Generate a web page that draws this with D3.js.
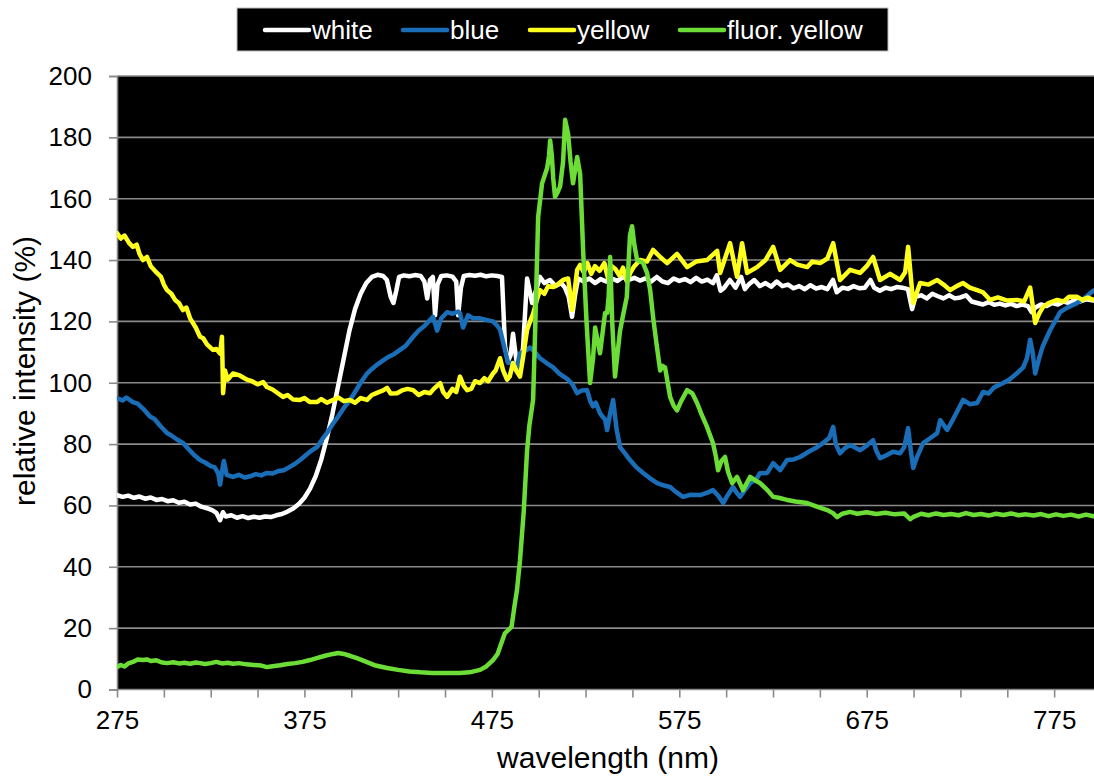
<!DOCTYPE html>
<html>
<head>
<meta charset="utf-8">
<script src="https://cdn.jsdelivr.net/npm/d3@7"></script>
<style>
  body { margin: 0; background: #fff; }
  text { font-family: "Liberation Sans", Arial, sans-serif; }
</style>
</head>
<body>
<script>
// spectra, [wavelength nm, relative intensity %]
var whiteData = [
  [275,63.4],[278,62.8],[281,63.2],[284,62.5],[287,62.9],[290,62.2],[293,62.6],[296,61.8],[299,62.1],[302,61.4],
  [305,61.7],[308,60.9],[311,61.2],[314,60.3],[317,60.6],[320,59.6],[323,59.1],[326,58.4],[328,57.6],[330,55.2],
  [331.5,57.8],[333,56.4],[336,56.8],[339,56.0],[342,56.5],[345,55.9],[348,56.3],[351,56.0],[354,56.4],[357,56.2],
  [360,56.8],[363,57.2],[366,58.0],[369,59.0],[372,60.5],[375,62.5],[378,65.5],[381,69.5],[384,75],[387,82],
  [390,90],[393,99],[396,108],[399,117],[402,124],[405,129],[408,132.5],[411,134.5],[414,135.2],[417,134.8],
  [419,133.5],[421,128],[422.5,126],[424,130],[425.5,134.5],[428,135],[431,134.7],[434,135.1],[437,134.8],[439,133],
  [440.5,127.5],[442,133.5],[443.5,134.5],[444.7,122],[446,132],[448,134.8],[451,135],[454,134.6],[456,133],[457,122],
  [458.5,131],[460,134.8],[463,135.1],[466,134.9],[469,135.2],[472,134.7],[475,135],[478,134.8],[480.4,134.5],[482,112],
  [483.6,107],[485,109],[486.3,116],[487.5,110],[488.4,106],[490,108],[491.6,111],[493.8,134],[496.5,126],[498.5,130],
  [500.7,134.5],[503,132.5],[506,133.5],[509,131.5],[512,132.5],[514,131],[516,128],[517.8,121.5],[519.5,129],[521,134],
  [524,133],[527,134],[530,132.5],[533,133.8],[536,133],[539,134],[542,133.2],[545,134.5],[548,133.5],[551,134.2],
  [554,133.3],[557,134],[560,133],[563,134.5],[566,133],[569,132.5],[572,134],[575,133.2],[578,133.8],[581,132.8],
  [584,134.2],[587,133],[590,133.6],[593,132.5],[595,135],[597,130],[599,131],[602,133.5],[605,131],[608,134.5],
  [610,130.5],[612,132],[615,133.5],[618,131.5],[621,132.5],[624,131.3],[627,133],[630,131.5],[633,132],[636,130.8],
  [639,131.5],[642,130.5],[645,131.8],[648,130.7],[651,131.2],[654,130.5],[657,133.5],[659,129.5],[662,131],[665,130.6],
  [668,131.5],[671,130.8],[674,131],[677,133.5],[679,131],[682,130],[685,131],[688,130.5],[691,131.2],[694,131],
  [697,130.5],[699.2,124],[701,128],[704,128.5],[707,127.5],[710,129],[713,128.2],[716,127.5],[719,128.5],[722,127.5],
  [725,127.8],[728,128.5],[731,126.5],[734,126],[737,125.5],[740,126.3],[743,125.4],[746,125.8],[749,125.2],[752,125.7],
  [755,125],[758,125.5],[761,125],[763,123],[765,124.5],[768,125.5],[771,125],[774,126],[777,125.5],[780,126.5],
  [783,126],[786,127],[789,126.5],[792,127.2],[796,126.8],[800,127]
];

var blueData = [
  [275,95],[278,94.2],[280,95.2],[283.5,93.7],[286,93.2],[289,91.5],[292.6,89],[295,88.2],[298,86],[301.7,83.6],
  [304,82.8],[307,81.5],[310.2,80.4],[313,78.5],[316,76.5],[319.3,74.8],[322,74],[325,72.8],[327,72.5],[329,70.5],
  [330,66.8],[331,71],[332,74.5],[333.5,70],[336.9,69.3],[340,70],[343,69.1],[346,69.5],[349,70.2],[352,69.8],
  [355,70.6],[358,70.4],[361,71.2],[364,71.5],[367,72.5],[370,73.6],[372.7,74.8],[376,76.5],[379,78],[381.7,79],
  [385,82],[388,84.5],[390.3,86.7],[393,89],[396,91.8],[399.3,94.3],[402,97],[405,100],[408.4,103],[411,104.5],
  [414,106],[417,107.3],[420,108.5],[423,109.4],[426,110.7],[429,112],[433,115],[436,117],[439,118.5],[440.4,119.4],
  [443.6,121.5],[445.8,117],[448,121],[451.1,123],[454,122.5],[457,123.2],[458,122.7],[459.6,118],[462.3,122],[465,121],
  [468.7,121],[472,120.5],[475.6,120],[478,118.5],[479.4,117.3],[482,110.7],[483.6,106.5],[486.3,106.4],[488,104],[490,109.6],
  [493,110.5],[495.4,111.5],[498,110],[500.7,108],[504,106.5],[507.7,105],[511,103],[515.7,101],[518,99.5],[520.5,96.6],
  [523,97.5],[525.8,97.6],[527.5,94],[529,92.3],[530.5,93.5],[532.7,90],[534,89],[535.4,88],[536.5,84.6],[538.1,90],
  [539.7,94.4],[541.5,85],[543.4,79],[546,77],[548.7,74.8],[552,72.5],[555.7,70.6],[559,69],[563.2,67.3],[567,66.5],
  [570.1,66],[573,64.5],[577,62.8],[581,63.5],[586.1,63.4],[590,64.2],[593,65],[596,63],[598.4,60.8],[601,63.5],
  [603.7,66],[605.8,64],[607.4,62.8],[610,65],[612.8,67.3],[616,68.5],[618,70.5],[621.9,70.6],[625.1,73.8],[628.8,71.5],
  [632.5,74.8],[636,75],[639.5,75.8],[644,77.5],[648.5,79],[652,80.5],[655,82],[657.1,85.6],[658.5,80],[660.8,77],
  [663,78.5],[666.1,79.7],[669,78.8],[671.5,78],[675,79.5],[678.4,81.3],[680,78],[682.1,75.4],[686,76.5],[689,77.5],
  [692.8,77],[695,79],[697.1,85.2],[698.5,78],[699.8,72.2],[702,76],[705.1,80.3],[709,82],[712.6,83.6],[714.2,87.8],
  [717.9,84.6],[721,88],[724,91.5],[726.4,94.4],[730,93],[733.9,93.4],[737.1,97],[740,96.5],[743,98.5],[747.8,99.9],
  [751,101],[755,103],[758.5,105],[760.5,108],[762.2,114],[763.5,110],[764.9,103],[767,108],[769,112],[772.9,117.2],
  [778.2,123],[782,124.5],[787.3,126],[791,127.5],[795.8,130],[800,131]
];

var yellowData = [
  [275,148.8],[277,147],[279,148],[281.5,145.5],[283.5,144.3],[285.5,145],[287,142],[288.9,140],[291,141],[293,138],
  [296.3,135.8],[298.5,134.5],[300,132],[301.7,130.2],[304,129],[306,127],[308,126],[310.2,123.7],[312,124.5],[314,121],
  [317,118],[319.3,115],[321,114.5],[323,112.5],[326.2,110.7],[328,111],[330,109.5],[331,115],[331.6,96.6],[332.6,104],
  [334,101],[336.9,103],[340,102.5],[344.4,101],[347,100.5],[350,99.5],[353,100.2],[355,98.6],[358,97.8],[361,96.5],
  [363.6,95.4],[366,96],[369,94.5],[372.7,94.4],[375,95],[378,93.7],[381.7,93.7],[384,94.7],[387,93.5],[390.3,94.4],
  [393,95.2],[396,94],[399.3,94.4],[402,93.5],[405,95],[408.4,94.4],[411,96],[414,96.8],[417,97.5],[419.1,98.3],
  [421,96.5],[424.4,96.6],[427,97.5],[430,98],[433,97.6],[436,96],[439,97],[442,96.6],[444,98],[447.4,99.9],
  [449,97],[451.1,95.4],[454,98],[456,97],[458,102],[460,99],[461.8,97.6],[464,98],[466,100.5],[468.7,99.9],
  [471,101.5],[473,100.5],[475.6,103],[477,104],[479.4,108],[481,104],[483.1,101],[484.5,102],[486.3,106.4],[488,104],
  [490,102],[491.6,108],[493.8,117.3],[495.4,120],[497,122.5],[499,127],[500.7,130.2],[503,129],[505,131.5],[507.7,131.2],
  [510,132],[513,133.5],[515.7,134],[517,128],[517.8,123.7],[518.8,128],[520.5,136.8],[522.1,138.4],[524,136],[526,139],
  [528,135.5],[530,138],[532.5,136.5],[535,139],[537,134],[539,138],[541,137],[543,135],[545,137.5],[547,133],
  [549,136],[551,138],[554.1,140],[557.8,139.5],[561,143.3],[564.8,141],[568.5,139],[573.8,142],[579.2,137.7],[584,139.5],
  [589.8,140],[595.2,143],[596.8,135.8],[602.1,145.5],[605.8,134.5],[608.5,145.5],[611.2,135.8],[616.5,137.7],[621,140],[625.1,144.3],
  [628.8,136.8],[634.1,140],[638,138.5],[643.2,137.7],[646,139.5],[650.1,139],[654,140.5],[657.1,145.5],[660.8,133.5],[666.1,136.8],
  [671.5,135.8],[675,138],[678.4,141],[682.1,133.5],[687.5,135.5],[692.8,133.5],[695.5,136],[697.1,144.3],[699.8,126],[703.5,132.5],
  [708,132],[712.6,133.5],[716,132],[719.5,130.2],[723,131.5],[726.4,132.5],[730,131],[733.9,130.2],[737,129.5],[740.9,127],
  [745,127.8],[750,126.8],[755.3,127],[759,126.5],[762.2,131],[764.9,119.5],[767,122.5],[769.1,124.7],[772,126],[776.6,127],
  [780,126.5],[783,128],[787.3,128],[790,127],[793,127.8],[795.8,127],[800,127.5]
];

var greenData = [
  [275,7.3],[277,8],[279,7.5],[281,8.5],[283.5,9],[286,9.8],[288.9,9.6],[291,9.8],[293,9.3],[296,9.5],
  [299,8.8],[301.7,8.6],[305,8.9],[308,8.5],[311,8.7],[314,8.4],[317,8.8],[319.3,8.6],[322,8.3],[325,8.6],
  [328,9.0],[331,8.5],[334,8.7],[336.9,8.4],[340,8.6],[344,8.2],[348,8.0],[352,7.8],[355,7.3],[358,7.6],
  [362,7.9],[366,8.3],[370,8.6],[374,9.0],[378,9.6],[382,10.3],[386,11],[390.3,11.6],[393,11.9],[396,11.6],
  [399.3,11.0],[403,10.2],[408.4,8.9],[413,7.8],[419.1,7.0],[425,6.4],[431,5.9],[437,5.6],[443,5.4],[450,5.4],
  [458,5.4],[463,5.6],[468.7,6.4],[472,7.5],[475.6,9.6],[478,11.5],[479.4,13.9],[482,18.4],[484,19.5],[485.5,20.4],
  [487,26.9],[488.4,32.4],[490,42],[492,58],[493.8,78],[495,86],[497,94.4],[498,115],[499.7,154],[501.8,165],
  [504.5,170],[505.5,174],[506.1,179],[507,174],[507.7,167],[508.7,160.6],[510,162],[511.4,164],[513,172],[514.1,185.7],
  [515.7,181],[517,172],[518.3,165],[520.5,173.6],[522.1,168],[523.7,143],[525.5,120],[527.4,99.9],[529,108],[530.1,118],
  [532.7,109.6],[535.4,122.7],[536.5,122.7],[537.3,128],[538.1,141],[539.2,120],[540.7,102],[543.4,117],[545,122],[547,128],
  [548.7,148],[549.8,151],[551,145],[552.5,140],[555.7,139],[557.8,135.8],[559.5,130],[561,121.5],[563,112],[564.8,104],
  [566,105.5],[567.4,105],[570.1,95.4],[572,92.5],[573.8,91],[576,94],[579.2,97.6],[582,96.5],[584.5,93.4],[587,89.5],
  [589.8,85.6],[593,80.3],[594.5,76],[595.7,71.5],[597.5,74.5],[599.4,75.8],[601,71],[603.2,67.3],[605.8,69.3],[609,65],
  [612.8,69.3],[616,68],[618.1,67.3],[622,65],[625.1,62.8],[628,62.5],[632.5,61.8],[637,61.3],[643.2,60.8],[648,59.7],
  [653.9,58.5],[657,57.5],[659.2,56.2],[662,57.3],[666.1,57.9],[670,57.3],[675,57.8],[680,57.2],[685,57.6],[690,57.1],
  [695,57.4],[698.2,55.5],[700,56.3],[704,57.3],[708,56.8],[712,57.4],[716,56.9],[720,57.2],[724,56.8],[728,57.5],
  [732,56.9],[736,57.2],[740,56.7],[744,57.3],[748,56.9],[752,57.4],[756,56.8],[760,57.1],[764,56.7],[768,57.2],
  [772,56.5],[776,57.1],[780,56.6],[784,57],[788,56.4],[792,57],[796,56.5],[800,56.8]
];

var seriesNames = ["white", "blue", "yellow", "fluor. yellow"];
var seriesColors = ["#ffffff", "#1a6db7", "#ffff1e", "#6cdc36"];
var seriesData = [whiteData, blueData, yellowData, greenData];

var xTicks = [275, 375, 475, 575, 675, 775];
var yTicks = [0, 20, 40, 60, 80, 100, 120, 140, 160, 180, 200];

var width = 1094, height = 778;
var plotLeft = 117, plotTop = 76, plotBottom = 689.5;

var svg = d3.select("body").append("svg")
  .attr("width", width).attr("height", height);

var x = d3.scaleLinear().domain([275, 800]).range([plotLeft, 1101]);
var y = d3.scaleLinear().domain([0, 200]).range([plotBottom, plotTop]);

svg.append("defs").append("clipPath").attr("id", "plot")
  .append("rect").attr("x", plotLeft).attr("y", plotTop - 5)
  .attr("width", width - plotLeft).attr("height", plotBottom - plotTop + 10);

// plot background
svg.append("rect")
  .attr("x", plotLeft).attr("y", plotTop)
  .attr("width", width - plotLeft).attr("height", plotBottom - plotTop)
  .style("fill", "#000");

// gridlines
svg.append("g").selectAll("line").data(yTicks.slice(1)).enter()
  .append("line")
  .attr("x1", plotLeft).attr("x2", width)
  .attr("y1", d => y(d)).attr("y2", d => y(d))
  .style("stroke", "#8a8a8a").style("stroke-width", 1.6);

// y axis
var yAxis = svg.append("g")
  .attr("transform", "translate(" + plotLeft + ",0)")
  .call(d3.axisLeft(y).tickValues(yTicks).tickSize(8).tickPadding(17));
yAxis.select(".domain").style("stroke", "#8a8a8a").style("stroke-width", 1.6);
yAxis.selectAll(".tick line").style("stroke", "#8a8a8a").style("stroke-width", 1.6);
yAxis.selectAll("text").style("font-size", "26px").style("fill", "#000")
  .style("font-family", "'Liberation Sans', Arial, sans-serif");

// x axis, minor tick every 25 nm
var xAxis = svg.append("g")
  .attr("transform", "translate(0," + plotBottom + ")")
  .call(d3.axisBottom(x).tickValues(d3.range(275, 801, 25)).tickSize(8).tickPadding(13)
    .tickFormat(d => xTicks.indexOf(d) >= 0 ? d : ""));
xAxis.select(".domain").remove();
xAxis.append("line").attr("x1", plotLeft).attr("x2", width)
  .style("stroke", "#8a8a8a").style("stroke-width", 1.6);
xAxis.selectAll(".tick line").style("stroke", "#8a8a8a").style("stroke-width", 1.6);
xAxis.selectAll("text").style("font-size", "26px").style("fill", "#000")
  .style("font-family", "'Liberation Sans', Arial, sans-serif");

// spectra
var line = d3.line().x(d => x(d[0])).y(d => y(d[1]));
var lines = svg.append("g").attr("clip-path", "url(#plot)");
seriesData.forEach(function(data, i) {
  lines.append("path")
    .datum(data)
    .attr("d", line)
    .style("fill", "none")
    .style("stroke", seriesColors[i])
    .style("stroke-width", 4.5)
    .style("stroke-linejoin", "round")
    .style("stroke-linecap", "round");
});

// axis titles
svg.append("text")
  .attr("x", 608).attr("y", 768)
  .attr("text-anchor", "middle")
  .style("font-size", "30px")
  .text("wavelength (nm)");

svg.append("text")
  .attr("transform", "translate(35,371) rotate(-90)")
  .attr("text-anchor", "middle")
  .style("font-size", "30px")
  .text("relative intensity (%)");

// legend
var legend = svg.append("g");
legend.append("rect")
  .attr("x", 237).attr("y", 8).attr("width", 651).attr("height", 43)
  .style("fill", "#000").style("stroke", "#bbb").style("stroke-width", 1);
var legendX = [265, 403, 530, 680];
seriesNames.forEach(function(name, i) {
  legend.append("line")
    .attr("x1", legendX[i]).attr("x2", legendX[i] + 44)
    .attr("y1", 30).attr("y2", 30)
    .style("stroke", seriesColors[i]).style("stroke-width", 4.5)
    .style("stroke-linecap", "round");
  legend.append("text")
    .attr("x", legendX[i] + 47).attr("y", 39)
    .style("font-size", "26px").style("fill", "#fff")
    .text(name);
});
</script>
</body>
</html>
